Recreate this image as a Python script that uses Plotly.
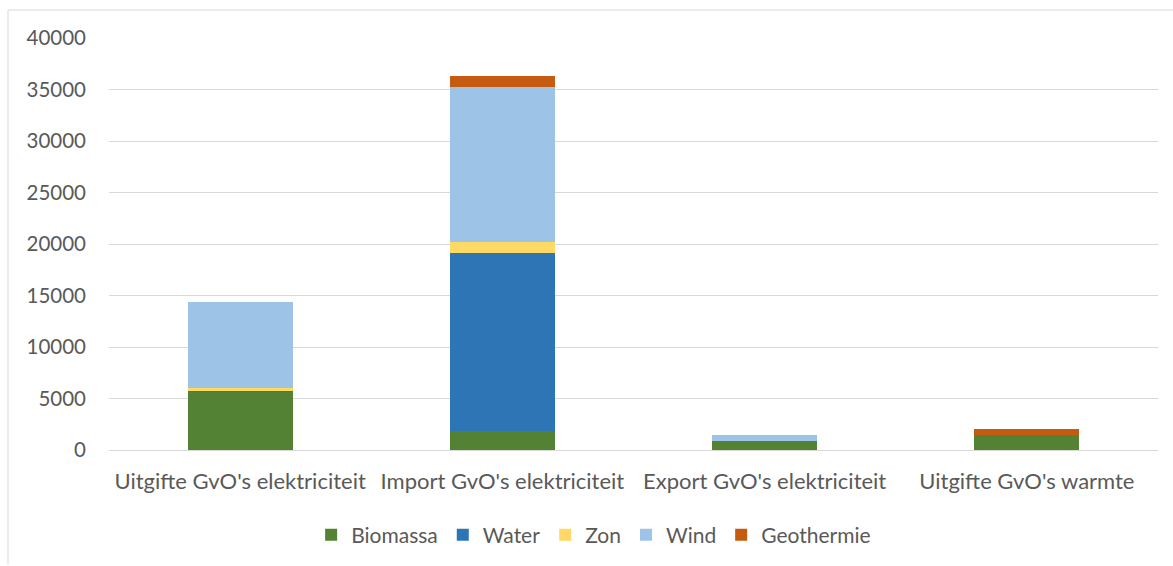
import plotly.graph_objects as go

categories = ["Uitgifte GvO's elektriciteit", "Import GvO's elektriciteit",
              "Export GvO's elektriciteit", "Uitgifte GvO's warmte"]
biomassa = [5650, 1870, 840, 1420]
water = [100, 17300, 0, 0]
zon = [300, 1040, 0, 0]
wind = [8300, 15070, 640, 0]
geothermie = [0, 1040, 0, 610]
y_ticks = [0, 5000, 10000, 15000, 20000, 25000, 30000, 35000, 40000]

series = [
    ("Biomassa", biomassa, "#548235"),
    ("Water", water, "#2E75B6"),
    ("Zon", zon, "#FFD966"),
    ("Wind", wind, "#9DC3E6"),
    ("Geothermie", geothermie, "#C55A11"),
]

W, H = 1173, 566
ml, mr, mt, mb = 109, 15, 38, 115
pw, ph = W - ml - mr, H - mt - mb

def px_x(x):
    return (x - ml) / pw

def px_y(y):
    return (H - mb - y) / ph

fig = go.Figure()
for name, vals, color in series:
    fig.add_trace(go.Bar(x=categories, y=vals, name=name, marker_color=color,
                         marker_line_width=0, width=0.4))

font = "Lato, Open Sans, sans-serif"
fig.update_layout(
    barmode="stack",
    width=W, height=H,
    margin=dict(l=ml, r=mr, t=mt, b=mb),
    plot_bgcolor="white", paper_bgcolor="white",
    font=dict(family=font, size=21, color="#595959"),
    showlegend=True,
    legend=dict(orientation="h", x=0.462, xanchor="center", y=px_y(535), yanchor="middle",
                font=dict(size=21, color="#595959"), traceorder="normal",
                itemwidth=30, tracegroupgap=0),
    bargap=0.6,
    xaxis=dict(showgrid=False, showline=False, ticks="", tickfont=dict(size=22),
               ticklabelstandoff=16),
    yaxis=dict(range=[0, 40000], tickmode="array", tickvals=y_ticks,
               ticktext=[str(v) for v in y_ticks], showgrid=True, gridcolor="#D9D9D9",
               gridwidth=1, zeroline=True, zerolinecolor="#D9D9D9", zerolinewidth=1,
               tickfont=dict(size=20.5), ticklabelstandoff=22, showline=False),
    shapes=[
        dict(type="line", xref="paper", yref="paper", x0=px_x(8), x1=px_x(1180),
             y0=px_y(10), y1=px_y(10), line=dict(color="#D9D9D9", width=1)),
        dict(type="line", xref="paper", yref="paper", x0=px_x(8), x1=px_x(8),
             y0=px_y(10), y1=px_y(566), line=dict(color="#D9D9D9", width=1)),
    ],
)

fig.write_html("out.html")
